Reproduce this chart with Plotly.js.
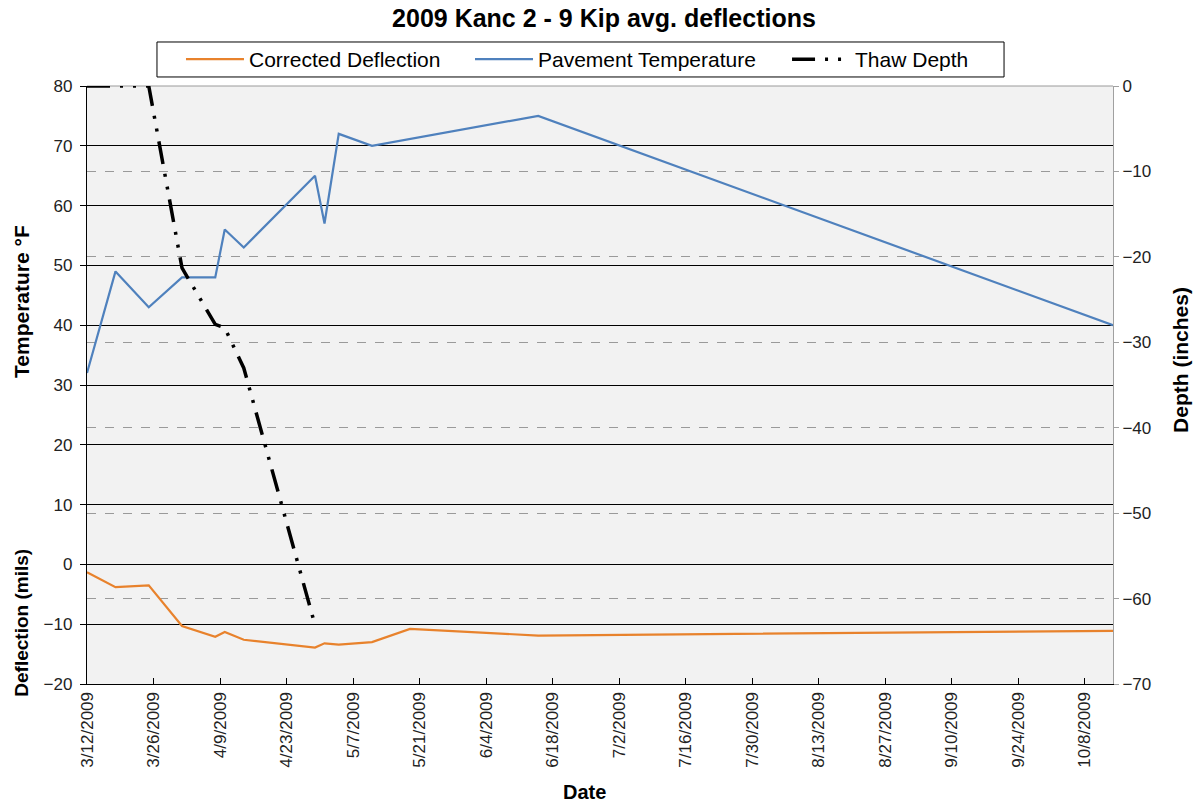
<!DOCTYPE html>
<html>
<head>
<meta charset="utf-8">
<script src="https://cdn.plot.ly/plotly-3.0.1.min.js"></script>
<style>html,body{margin:0;padding:0;background:#fff;}#chart{width:1196px;height:807px;}</style>
</head>
<body>
<div id="chart"></div>
<script>
// ---- data ----
const tempDates = ['2009-03-12','2009-03-18','2009-03-25','2009-04-01','2009-04-08','2009-04-10','2009-04-14','2009-04-29','2009-05-01','2009-05-04','2009-05-11','2009-06-15','2009-10-14'];
const pavementTemp = [32, 49, 43, 48, 48, 56, 53, 65, 57, 72, 70, 75, 40];

const deflDates = ['2009-03-12','2009-03-18','2009-03-25','2009-04-01','2009-04-08','2009-04-10','2009-04-14','2009-04-29','2009-05-01','2009-05-04','2009-05-11','2009-05-19','2009-06-15','2009-10-14'];
const correctedDeflection = [-1.3, -3.8, -3.5, -10.3, -12.1, -11.3, -12.6, -13.9, -13.2, -13.4, -13.0, -10.8, -11.9, -11.1];

const thawDates = ['2009-03-12','2009-03-18','2009-03-25','2009-04-01','2009-04-08','2009-04-10','2009-04-14','2009-04-29'];
const thawDepth = [0, 0, 0, -21.3, -27.9, -28.3, -33.0, -63.1];

const xTickVals = ['2009-03-12','2009-03-26','2009-04-09','2009-04-23','2009-05-07','2009-05-21','2009-06-04','2009-06-18','2009-07-02','2009-07-16','2009-07-30','2009-08-13','2009-08-27','2009-09-10','2009-09-24','2009-10-08'];
const xTickText = ['3/12/2009','3/26/2009','4/9/2009','4/23/2009','5/7/2009','5/21/2009','6/4/2009','6/18/2009','7/2/2009','7/16/2009','7/30/2009','8/13/2009','8/27/2009','9/10/2009','9/24/2009','10/8/2009'];

const FONT = 'Liberation Sans, Arial, sans-serif';

const traces = [
  {x: deflDates, y: correctedDeflection, name: 'Corrected Deflection', type: 'scatter', mode: 'lines',
   line: {color: '#e8822c', width: 2.2}, yaxis: 'y', legend: 'legend'},
  {x: tempDates, y: pavementTemp, name: 'Pavement Temperature', type: 'scatter', mode: 'lines',
   line: {color: '#4f81bd', width: 2.2}, yaxis: 'y', legend: 'legend2'},
  {x: thawDates, y: thawDepth, name: 'Thaw Depth', type: 'scatter', mode: 'lines',
   line: {color: '#000000', width: 3.5, dash: '23px,10px,3px,10px,3px,10px'}, yaxis: 'y2', legend: 'legend3'}
];

function leg(x) {
  return {orientation: 'h', x: x, xanchor: 'left', y: 1.0443, yanchor: 'middle',
          bgcolor: 'rgba(0,0,0,0)', borderwidth: 0, itemwidth: 58,
          font: {family: FONT, size: 21, color: '#000'}};
}

const layout = {
  width: 1196, height: 807,
  margin: {l: 87, r: 83, t: 86, b: 123},
  paper_bgcolor: '#ffffff',
  plot_bgcolor: '#f2f2f2',
  font: {family: FONT, size: 17, color: '#222'},
  title: {text: '<b>2009 Kanc 2 - 9 Kip avg. deflections</b>', font: {family: FONT, size: 25, color: '#000'},
          x: 0.505, xanchor: 'center', y: 0.978, yanchor: 'middle', yref: 'container'},
  showlegend: true,
  legend: leg(0.0916),
  legend2: leg(0.3733),
  legend3: leg(0.6823),
  xaxis: {type: 'date', range: ['2009-03-12', '2009-10-14'],
          tickmode: 'array', tickvals: xTickVals, ticktext: xTickText, tickangle: -90,
          ticks: 'inside', ticklen: 6, tickcolor: '#000', showgrid: false, zeroline: false,
          showline: true, linecolor: '#000', linewidth: 1.2,
          tickfont: {family: FONT, size: 17, color: '#222'}},
  yaxis: {range: [-20, 80], dtick: 10, tick0: 0, showgrid: true, gridcolor: '#000000', gridwidth: 1,
          zeroline: false, showline: true, linecolor: '#000', linewidth: 1.2,
          ticks: 'outside', ticklen: 6, tickcolor: '#000', ticklabelstandoff: 4,
          tickfont: {family: FONT, size: 17, color: '#222'}},
  yaxis2: {range: [-70, 0], dtick: 10, tick0: 0, overlaying: 'y', side: 'right',
           showgrid: true, gridcolor: '#9a9a9a', gridwidth: 1, griddash: 'dash',
           zeroline: false, showline: true, linecolor: '#a0a0a0', linewidth: 1,
           ticks: 'outside', ticklen: 5, tickcolor: '#a0a0a0',
           tickfont: {family: FONT, size: 17, color: '#222'}},
  shapes: [
    {type: 'line', xref: 'paper', yref: 'paper', x0: 0, x1: 1, y0: 1, y1: 1, line: {color: '#9a9a9a', width: 1}, layer: 'below'},
    {type: 'rect', xref: 'paper', yref: 'paper', x0: 0.0682, x1: 0.8938, y0: 1.0151, y1: 1.0736,
     fillcolor: '#ffffff', line: {color: '#000000', width: 1}, layer: 'above'}
  ],
  annotations: [
    {text: '<b>Temperature °F</b>', xref: 'paper', yref: 'paper', x: -0.0634, y: 0.6405, xanchor: 'center', yanchor: 'middle',
     textangle: -90, showarrow: false, font: {family: FONT, size: 21, color: '#000'}},
    {text: '<b>Deflection (mils)</b>', xref: 'paper', yref: 'paper', x: -0.0634, y: 0.1024, xanchor: 'center', yanchor: 'middle',
     textangle: -90, showarrow: false, font: {family: FONT, size: 19, color: '#000'}},
    {text: '<b>Depth (inches)</b>', xref: 'paper', yref: 'paper', x: 1.0663, y: 0.542, xanchor: 'center', yanchor: 'middle',
     textangle: -90, showarrow: false, font: {family: FONT, size: 21, color: '#000'}},
    {text: '<b>Date</b>', xref: 'paper', yref: 'paper', x: 0.485, y: -0.1806, xanchor: 'center', yanchor: 'middle',
     showarrow: false, font: {family: FONT, size: 20, color: '#000'}}
  ]
};

Plotly.newPlot('chart', traces, layout, {displayModeBar: false, staticPlot: true});
</script>
</body>
</html>
